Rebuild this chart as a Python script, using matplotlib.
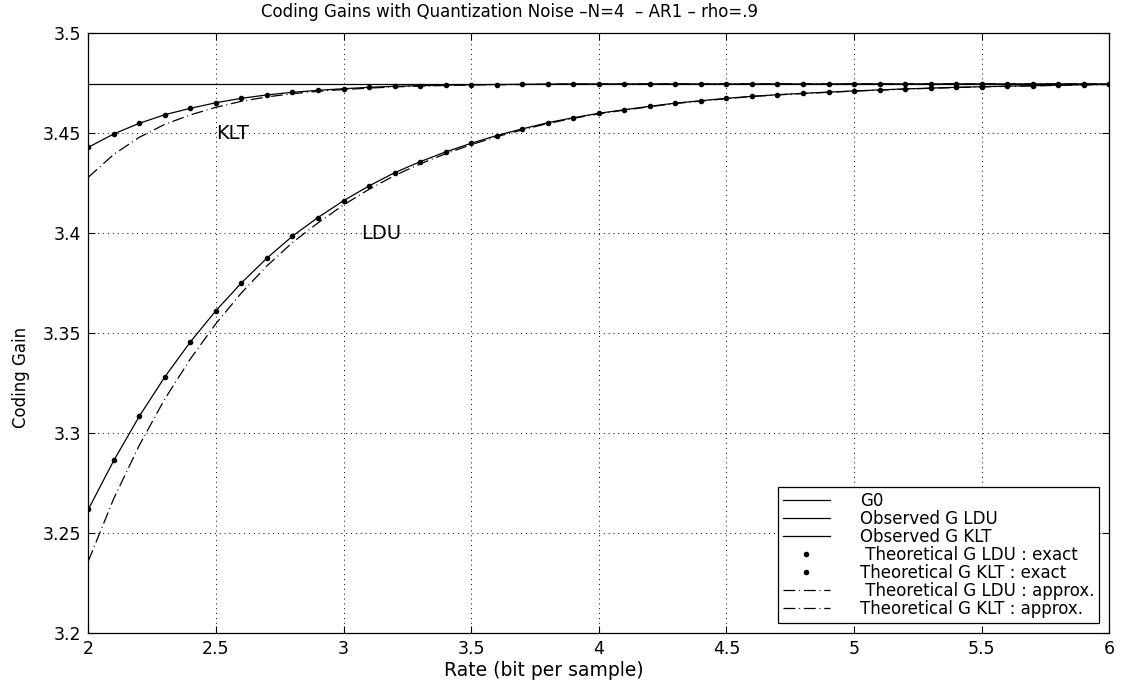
import numpy as np
import matplotlib
matplotlib.use("Agg")
import matplotlib.pyplot as plt
from matplotlib.ticker import FuncFormatter

plt.rcParams['font.family'] = ['DejaVu Sans']

# Rate axis (bit per sample)
rate = np.round(np.arange(2.0, 6.01, 0.1), 1)

# asymptotic gain
G0 = 3.4748

# Theoretical exact gains (dots)
ldu_exact = [3.2619, 3.2864, 3.3085, 3.3282, 3.3457, 3.3613, 3.3752, 3.3876,
             3.3986, 3.4079, 3.4163, 3.4237, 3.4303, 3.4358, 3.4407, 3.4450,
             3.4489, 3.4522, 3.4553, 3.4578, 3.4600, 3.4618, 3.4635, 3.4651,
             3.4663, 3.4675, 3.4685, 3.4693, 3.4700, 3.4706, 3.4712, 3.4717,
             3.4722, 3.4726, 3.4730, 3.4733, 3.4736, 3.4738, 3.4741, 3.4743,
             3.4745]
klt_exact = [3.4430, 3.4497, 3.4550, 3.4593, 3.4625, 3.4653, 3.4675, 3.4692,
             3.4705, 3.4715, 3.4723, 3.4730, 3.4735, 3.4738, 3.4741, 3.4743,
             3.4744, 3.4745, 3.4746, 3.4747, 3.4747, 3.4747, 3.4747, 3.4747,
             3.4747, 3.4747, 3.4747, 3.4747, 3.4747, 3.4747, 3.4747, 3.4747,
             3.4747, 3.4747, 3.4747, 3.4747, 3.4747, 3.4747, 3.4747, 3.4747,
             3.4747]

# Observed gains (solid lines) lie on top of the exact ones
ldu_obs = list(ldu_exact)
klt_obs = list(klt_exact)

# Theoretical approximations (dash-dot)
ldu_approx = [3.2360, 3.2674, 3.2940, 3.3172, 3.3372, 3.3548, 3.3702, 3.3837,
              3.3954, 3.4052, 3.4142, 3.4220, 3.4289, 3.4347, 3.4398, 3.4443,
              3.4483, 3.4517, 3.4549, 3.4575, 3.4597, 3.4616, 3.4633, 3.4649,
              3.4661, 3.4673, 3.4684, 3.4692, 3.4699, 3.4705, 3.4711, 3.4716,
              3.4721, 3.4725, 3.4729, 3.4732, 3.4735, 3.4737, 3.4740, 3.4742,
              3.4744]
klt_approx = [3.4280, 3.4395, 3.4480, 3.4545, 3.4592, 3.4630, 3.4660, 3.4682,
              3.4698, 3.4710, 3.4719, 3.4726, 3.4732, 3.4736, 3.4739, 3.4742,
              3.4743, 3.4744, 3.4745, 3.4746, 3.4746, 3.4747, 3.4747, 3.4747,
              3.4747, 3.4747, 3.4747, 3.4747, 3.4747, 3.4747, 3.4747, 3.4747,
              3.4747, 3.4747, 3.4747, 3.4747, 3.4747, 3.4747, 3.4747, 3.4747,
              3.4747]

fig = plt.figure(figsize=(11.3, 6.87), dpi=100)
ax = fig.add_axes([0.0781, 0.0782, 0.9036, 0.8733])

lw = 0.9
dashdot = (0, (9.5, 3, 0.8, 3))
ax.axhline(G0, color='black', lw=lw, label='G0')
ax.plot(rate, ldu_obs, color='black', lw=lw, label='Observed G LDU')
ax.plot(rate, klt_obs, color='black', lw=lw, label='Observed G KLT')
ax.plot(rate, ldu_exact, 'k.', ms=6, label=' Theoretical G LDU : exact')
ax.plot(rate, klt_exact, 'k.', ms=6, label='Theoretical G KLT : exact')
ax.plot(rate, ldu_approx, color='black', lw=lw, ls=dashdot,
        label=' Theoretical G LDU : approx.')
ax.plot(rate, klt_approx, color='black', lw=lw, ls=dashdot,
        label='Theoretical G KLT : approx.')

ax.text(2.5, 3.45, 'KLT', fontsize=14, va='center', ha='left')
ax.text(3.07, 3.40, 'LDU', fontsize=14, va='center', ha='left')

ax.set_xlim(2, 6)
ax.set_ylim(3.2, 3.5)
ax.set_xticks(np.arange(2, 6.01, 0.5))
ax.set_yticks(np.arange(3.2, 3.501, 0.05))
fmt = FuncFormatter(lambda v, p: '%g' % round(v, 3))
ax.xaxis.set_major_formatter(fmt)
ax.yaxis.set_major_formatter(fmt)
ax.tick_params(direction='in', top=True, right=True, labelsize=12.5, length=5,
               width=0.8, pad=5)
ax.grid(True, color='black', ls=(0, (1, 4)), lw=0.7)
for s in ax.spines.values():
    s.set_linewidth(0.9)

ax.set_title('Coding Gains with Quantization Noise \u2013N=4  \u2013 AR1 \u2013 rho=.9',
             fontsize=12, pad=12, x=0.413)
ax.set_xlabel('Rate (bit per sample)', fontsize=13.5)
ax.xaxis.set_label_coords(0.446, -0.046)
ax.set_ylabel('Coding Gain', fontsize=12)
ax.yaxis.set_label_coords(-0.057, 0.427)

leg = ax.legend(loc='lower right', fontsize=12, labelspacing=0.0,
                handlelength=2.8, handletextpad=1.8, borderpad=0.3,
                borderaxespad=0.6, fancybox=False, framealpha=1,
                edgecolor='black')
leg.get_frame().set_linewidth(0.9)

fig.savefig('out.png', dpi=100)
